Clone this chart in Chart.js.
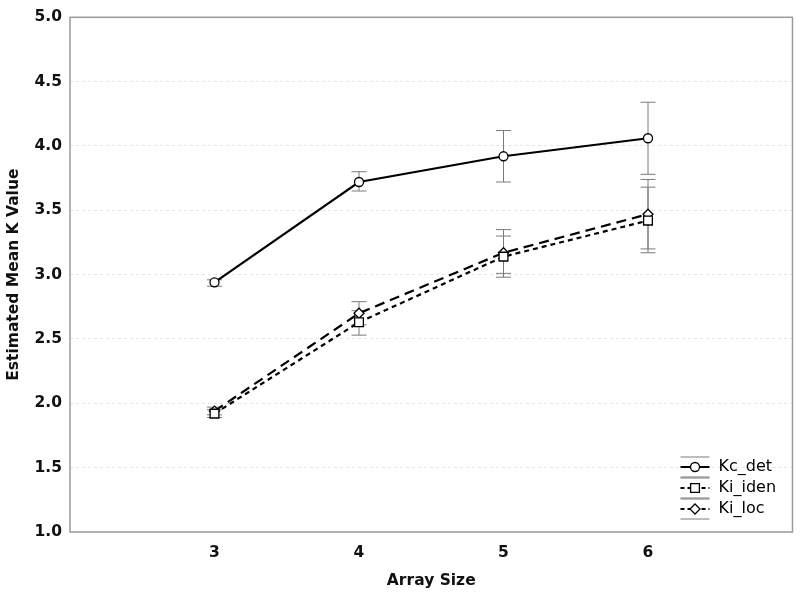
<!DOCTYPE html>
<html>
<head>
<meta charset="utf-8">
<script src="https://cdn.jsdelivr.net/npm/chart.js@4/dist/chart.umd.min.js"></script>
<style>
  html, body { margin: 0; padding: 0; background: #fff; }
  #wrap { width: 800px; height: 600px; }
</style>
</head>
<body>
<div id="wrap"><canvas id="kChart" width="800" height="600"></canvas></div>
<script>
// array sizes on the x axis
const arraySizes = [3, 4, 5, 6];
const xTicks = [3, 4, 5, 6];

// estimated mean K values
const kcDet = [2.94, 3.72, 3.92, 4.06];
const kiIden = [1.92, 2.63, 3.14, 3.42];
const kiLoc = [1.94, 2.70, 3.17, 3.47];

// error bar ends
const kcDetLow = [2.91, 3.65, 3.72, 3.78];
const kcDetHigh = [2.96, 3.80, 4.12, 4.34];
const kiIdenLow = [1.89, 2.53, 2.98, 3.17];
const kiIdenHigh = [1.95, 2.72, 3.30, 3.68];
const kiLocLow = [1.91, 2.61, 3.01, 3.20];
const kiLocHigh = [1.97, 2.79, 3.35, 3.74];

const FONT = "'DejaVu Sans', Verdana, sans-serif";

function toPoints(xs, ys) {
    return xs.map((x, i) => ({x: x, y: ys[i]}));
}

function makeSeries(label, values, low, high, pointStyle, radius, dash) {
    return {
        label: label,
        data: toPoints(arraySizes, values),
        errLow: low,
        errHigh: high,
        borderColor: '#000',
        borderWidth: 2.2,
        borderDash: dash,
        pointStyle: pointStyle,
        pointRadius: radius,
        pointBackgroundColor: '#fff',
        pointBorderColor: '#000',
        pointBorderWidth: 1.3,
        tension: 0,
        fill: false
    };
}

// vertical error bars with caps, drawn under the lines
const errorBars = {
    id: 'errorBars',
    beforeDatasetsDraw(chart) {
        const ctx = chart.ctx;
        const xs = chart.scales.x, ys = chart.scales.y;
        ctx.save();
        ctx.strokeStyle = '#7a7a7a';
        ctx.lineWidth = 1;
        chart.data.datasets.forEach(ds => {
            ds.data.forEach((p, i) => {
                const x = xs.getPixelForValue(p.x);
                const y1 = ys.getPixelForValue(ds.errLow[i]);
                const y2 = ys.getPixelForValue(ds.errHigh[i]);
                ctx.beginPath();
                ctx.moveTo(x, y1); ctx.lineTo(x, y2);
                ctx.moveTo(x - 7.5, y1); ctx.lineTo(x + 7.5, y1);
                ctx.moveTo(x - 7.5, y2); ctx.lineTo(x + 7.5, y2);
                ctx.stroke();
            });
        });
        ctx.restore();
    }
};

// box round the plot area
const frame = {
    id: 'frame',
    afterDraw(chart) {
        const a = chart.chartArea;
        const ctx = chart.ctx;
        ctx.save();
        ctx.strokeStyle = '#9a9a9a';
        ctx.lineWidth = 1.5;
        ctx.strokeRect(a.left, a.top, a.right - a.left, a.bottom - a.top);
        ctx.restore();
    }
};

// legend in the lower right, sample line with marker and error caps
const cornerLegend = {
    id: 'cornerLegend',
    afterDraw(chart) {
        const ctx = chart.ctx;
        const a = chart.chartArea;
        const x0 = a.right - 112, x1 = a.right - 83, tx = a.right - 74;
        let y = a.bottom - 65;
        ctx.save();
        chart.data.datasets.forEach((ds, i) => {
            const mx = (x0 + x1) / 2;
            ctx.strokeStyle = '#7a7a7a';
            ctx.lineWidth = 1;
            ctx.beginPath();
            ctx.moveTo(x0, y - 10); ctx.lineTo(x1, y - 10);
            ctx.moveTo(x0, y + 10); ctx.lineTo(x1, y + 10);
            ctx.stroke();
            ctx.strokeStyle = '#000';
            ctx.lineWidth = 2;
            ctx.setLineDash(i === 0 ? [] : [4, 3]);
            ctx.beginPath();
            ctx.moveTo(x0, y); ctx.lineTo(x1, y);
            ctx.stroke();
            ctx.setLineDash([]);
            ctx.fillStyle = '#fff';
            ctx.strokeStyle = '#000';
            ctx.lineWidth = 1.3;
            Chart.helpers.drawPoint(ctx, {pointStyle: ds.pointStyle, radius: ds.pointRadius, borderWidth: 1.3}, mx, y);
            ctx.fillStyle = '#000';
            ctx.font = '16px ' + FONT;
            ctx.textBaseline = 'middle';
            ctx.textAlign = 'left';
            ctx.fillText(ds.label, tx, y);
            y += 21;
        });
        ctx.restore();
    }
};

new Chart(document.getElementById('kChart'), {
    type: 'line',
    data: {
        datasets: [
            makeSeries('Kc_det', kcDet, kcDetLow, kcDetHigh, 'circle', 4.5, []),
            makeSeries('Ki_iden', kiIden, kiIdenLow, kiIdenHigh, 'rect', 6.2, [5, 4]),
            makeSeries('Ki_loc', kiLoc, kiLocLow, kiLocHigh, 'rectRot', 5, [10, 6])
        ]
    },
    options: {
        responsive: false,
        animation: false,
        layout: { padding: { top: 12, right: 7, left: 0, bottom: 0 } },
        plugins: {
            legend: { display: false },
            tooltip: { enabled: false }
        },
        scales: {
            x: {
                type: 'linear',
                min: 2,
                max: 7,
                afterFit: (s) => { s.height = 68; },
                afterBuildTicks: (s) => { s.ticks = xTicks.map(v => ({value: v})); },
                grid: { display: false, drawTicks: false },
                border: { display: false },
                ticks: {
                    padding: 12,
                    color: '#111',
                    font: { family: FONT, size: 15.5, weight: 'bold' }
                },
                title: {
                    display: true,
                    text: 'Array Size',
                    color: '#111',
                    padding: { top: 0, bottom: 10 },
                    font: { family: FONT, size: 15.5, weight: 'bold' }
                }
            },
            y: {
                min: 1,
                max: 5,
                afterFit: (s) => { s.width = 70; },
                grid: { color: '#e4e4e4', drawTicks: false, lineWidth: 1 },
                border: { display: false, dash: [3, 3] },
                ticks: {
                    stepSize: 0.5,
                    padding: 8,
                    color: '#111',
                    callback: (v) => v.toFixed(1),
                    font: { family: FONT, size: 15.5, weight: 'bold' }
                },
                title: {
                    display: true,
                    text: 'Estimated Mean K Value',
                    color: '#111',
                    padding: { top: 5, bottom: 0 },
                    font: { family: FONT, size: 15.5, weight: 'bold' }
                }
            }
        }
    },
    plugins: [errorBars, frame, cornerLegend]
});
</script>
</body>
</html>
